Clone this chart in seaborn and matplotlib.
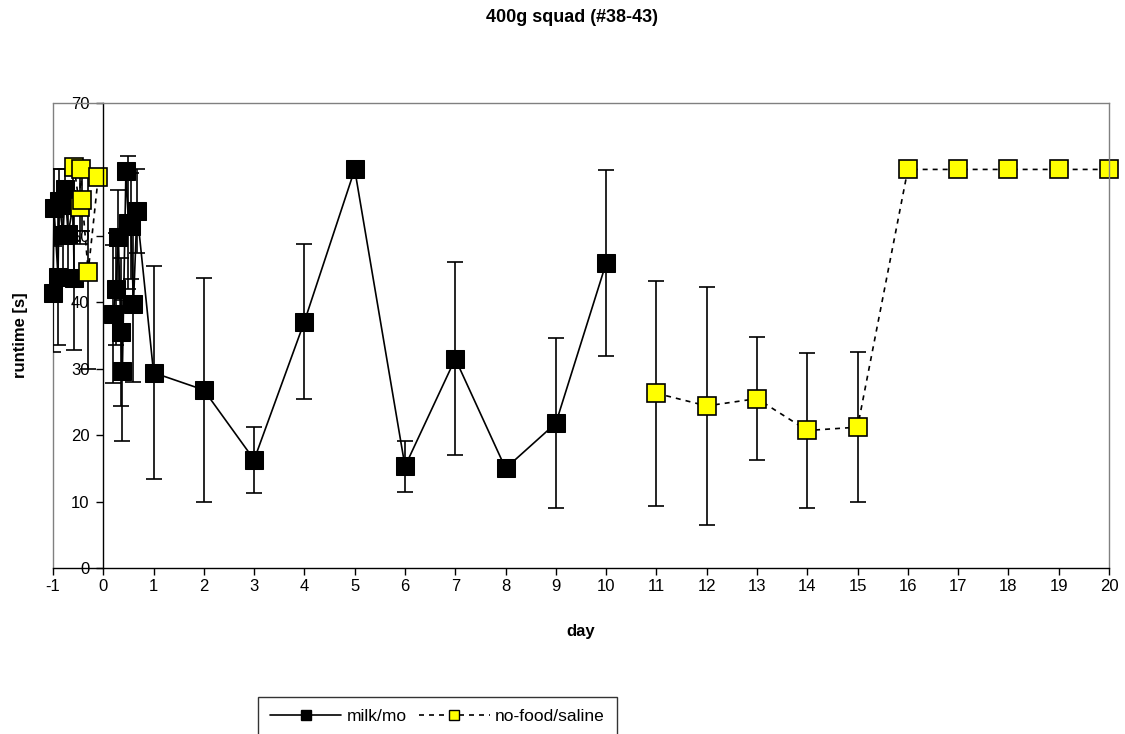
import numpy as np
import matplotlib
matplotlib.use("Agg")
import matplotlib.pyplot as plt
from matplotlib.lines import Line2D
import pandas as pd
import seaborn as sns

# milk/mo group: pre-period, first day (hours), then daily
milk_day = [-1.0, -0.98, -0.9, -0.88, -0.8, -0.76, -0.7, -0.6, -0.58,
            0.2, 0.25, 0.3, 0.35, 0.38, 0.45, 0.5, 0.55, 0.6, 0.67,
            1, 2, 3, 4, 5, 6, 7, 8, 9, 10]
milk_runtime = [41.4, 54.2, 43.8, 55.3, 50.1, 57.0, 50.3, 54.6, 43.7,
                38.2, 42.0, 49.9, 35.5, 29.7, 59.8, 52.0, 51.5, 39.7, 53.7,
                29.4, 26.8, 16.3, 37.1, 60.0, 15.3, 31.5, 15.0, 21.8, 45.9]
milk_err = [8.9, 5.8, 10.2, 4.7, 6.0, 3.0, 6.5, 5.4, 10.9,
            10.4, 8.4, 7.0, 11.1, 10.6, 0.2, 10.0, 8.0, 11.7, 6.3,
            16.0, 16.8, 5.0, 11.6, 0.0, 3.8, 14.5, 1.0, 12.8, 14.0]
milk_seg = [0] * 9 + [1] * 20

# no-food/saline group
saline_day = [-0.58, -0.47, -0.45, -0.42, -0.3, -0.1,
              11, 12, 13, 14, 15, 16, 17, 18, 19, 20]
saline_runtime = [60.4, 54.3, 60.0, 55.4, 44.6, 58.9,
                  26.3, 24.4, 25.5, 20.7, 21.2, 60, 60, 60, 60, 60]
saline_err = [0.5, 5.5, 0.5, 4.6, 14.6, 1.0,
              16.9, 17.9, 9.3, 11.7, 11.3, 0, 0, 0, 0, 0]
saline_seg = [0] * 6 + [1] * 10

x_ticks = list(range(-1, 21))
y_ticks = list(range(0, 71, 10))

df_milk = pd.DataFrame({'day': milk_day, 'runtime': milk_runtime, 'seg': milk_seg})
df_saline = pd.DataFrame({'day': saline_day, 'runtime': saline_runtime, 'seg': saline_seg})

sns.set_style('white')
plt.rcParams['font.family'] = ['Liberation Sans', 'DejaVu Sans']
plt.rcParams['axes.unicode_minus'] = False
for k in ['text.color', 'axes.labelcolor', 'xtick.color', 'ytick.color']:
    plt.rcParams[k] = 'black'

W, H = 1125, 734
fig = plt.figure(figsize=(W / 100, H / 100), dpi=100)
ax = fig.add_axes([53 / W, 1 - 568 / H, (1109 - 53) / W, (568 - 103) / H])

# error bars under the markers
ax.errorbar(milk_day, milk_runtime, yerr=milk_err, fmt='none', ecolor='black',
            elinewidth=1.2, capsize=5.5, capthick=1.2, zorder=1.5)
ax.errorbar(saline_day, saline_runtime, yerr=saline_err, fmt='none', ecolor='black',
            elinewidth=1.2, capsize=5.5, capthick=1.2, zorder=1.6)

sns.lineplot(data=df_milk, x='day', y='runtime', units='seg', estimator=None,
             color='black', linewidth=1.2, marker='s', markersize=13,
             markerfacecolor='black', markeredgecolor='black', ax=ax, legend=False,
             zorder=2, clip_on=False)
sns.lineplot(data=df_saline, x='day', y='runtime', units='seg', estimator=None,
             color='black', linewidth=1.2, linestyle=(0, (3, 3)), marker='s', markersize=13,
             markerfacecolor='#FFFF00', markeredgecolor='black', markeredgewidth=1.2,
             ax=ax, legend=False, zorder=2.1, clip_on=False)

ax.set_xlim(-1, 20)
ax.set_ylim(0, 70)
ax.set_xticks(x_ticks)
ax.set_yticks(y_ticks)
ax.tick_params(axis='both', direction='out', length=5, width=1, colors='black',
               labelsize=12, bottom=True, left=True)
ax.tick_params(axis='y', pad=5)
ax.tick_params(axis='x', pad=3)

# frame: y axis crosses at day 0, grey plot-area border
ax.spines['left'].set_position(('data', 0))
ax.spines['left'].set_color('black')
ax.spines['bottom'].set_color('black')
for s in ['top', 'right']:
    ax.spines[s].set_color('#808080')
for s in ax.spines.values():
    s.set_linewidth(1)
ax.axvline(-1, color='#808080', linewidth=1, clip_on=False, zorder=0.5)

ax.set_xlabel('day', fontsize=12, fontweight='bold')
ax.xaxis.set_label_coords(0.5, -0.12)
ax.set_ylabel('runtime [s]', fontsize=12, fontweight='bold')
ax.yaxis.set_label_coords(-0.024, 0.5)

fig.text(572 / W, 1 - 18 / H, '400g squad (#38-43)', ha='center', va='center',
         fontsize=13, fontweight='bold')

handles = [
    Line2D([], [], color='black', linewidth=1.2, marker='s', markersize=13,
           markerfacecolor='black', markeredgecolor='black'),
    Line2D([], [], color='black', linewidth=1.2, linestyle=(0, (3, 3)), marker='s',
           markersize=13, markerfacecolor='#FFFF00', markeredgecolor='black'),
]
leg = fig.legend(handles, ['milk/mo', 'no-food/saline'], loc='upper left',
                 bbox_to_anchor=(258 / W, 1 - 697 / H), ncol=2, fontsize=12.5,
                 frameon=True, fancybox=False, shadow=False, markerscale=0.6,
                 handlelength=4.1, handletextpad=0.3, columnspacing=0.7,
                 borderpad=0.7, borderaxespad=0)
leg.get_frame().set_edgecolor('black')
leg.get_frame().set_linewidth(1)

fig.savefig('out.png', dpi=100)
